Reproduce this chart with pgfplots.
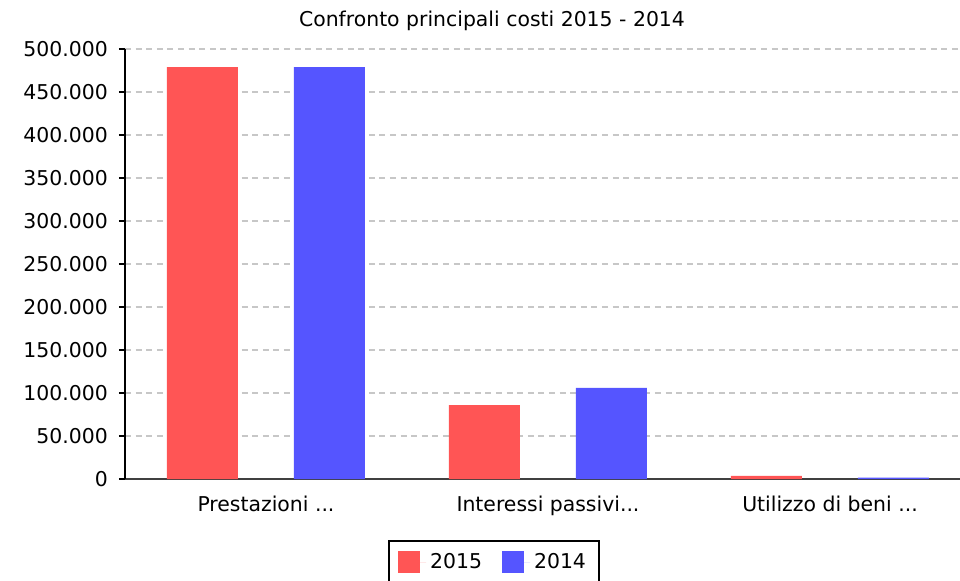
\documentclass[border=0pt]{standalone}
\usepackage{pgfplots}
\pgfplotsset{compat=1.18}
\usepackage{fontspec}
\setmainfont{DejaVu Sans}
\definecolor{red15}{HTML}{FF5555}
\definecolor{blue14}{HTML}{5555FF}
\begin{document}
\fontsize{10.2}{12}\selectfont
\begin{tikzpicture}[x=1pt,y=1pt]
\useasboundingbox (-62.5,-50.5) rectangle (417.5,239.5);
\begin{axis}[
  at={(0,0)}, anchor=south west,
  scale only axis, width=417.5pt, height=215pt,
  xmin=-0.5, xmax=2.461, ymin=0, ymax=500000,
  axis lines*=left,
  axis line style={line width=1pt},
  x axis line style={draw=black!75},
  y axis line style={draw=black},
  ybar=28pt, bar width=35.5pt,
  xtick={0,1,2},
  xticklabels={{Prestazioni {.}{.}{.}},{Interessi passivi{.}{.}{.}},{Utilizzo di beni {.}{.}{.}}},
  x tick style={draw=none},
  xticklabel style={yshift=-2pt},
  ytick={0,50000,100000,150000,200000,250000,300000,350000,400000,450000,500000},
  scaled y ticks=false,
  y tick style={draw=black, line width=1pt},
  tick align=outside, major tick length=3pt,
  yticklabel style={xshift=-2pt},
  /pgf/number format/.cd, fixed, 1000 sep={.}, assume math mode=true,
  /pgfplots/.cd,
  ymajorgrids,
  major grid style={draw=black!22, line width=0.9pt, dash pattern=on 3pt off 2.3pt},
  title={Confronto principali costi 2015 - 2014},
  title style={at={(axis description cs:0.4395,1)}, anchor=center, yshift=8pt},
  legend style={at={(axis description cs:0.442,-0.142)}, anchor=north,
    legend columns=2, draw=black, line width=1pt, inner xsep=4.5pt, inner ysep=4pt,
    /tikz/every even column/.append style={column sep=8pt}},
  legend image code/.code={\fill[#1] (0pt,-5.5pt) rectangle (11pt,5.5pt); \path (0pt,0pt) -- (14pt,0pt);},
]
\addplot[fill=red15, draw=none] coordinates {(0,479000) (1,86000) (2,3500)};
\addplot[fill=blue14, draw=none] coordinates {(0,479000) (1,106000) (2,1500)};
\legend{2015,2014}
\end{axis}
\end{tikzpicture}
\end{document}
